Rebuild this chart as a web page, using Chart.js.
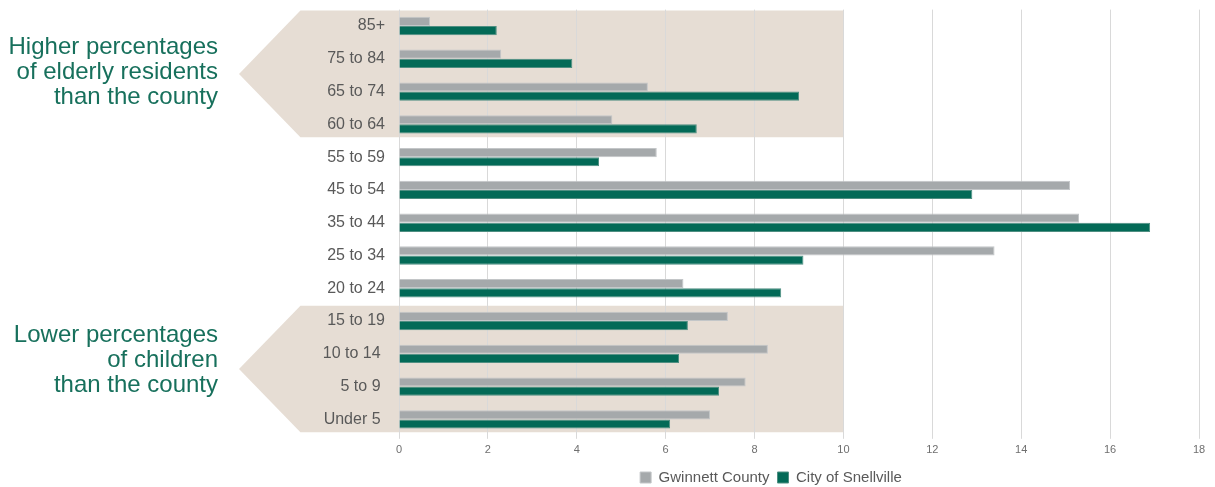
<!DOCTYPE html>
<html>
<head>
<meta charset="utf-8">
<script src="https://cdn.jsdelivr.net/npm/chart.js@4.4.0/dist/chart.umd.min.js"></script>
<style>
    html, body { margin: 0; padding: 0; background: #fff; }
    #wrap { position: relative; width: 1215px; height: 487px; }
    .note {
        position: absolute; right: 997px; text-align: right; white-space: nowrap;
        font-family: "Liberation Sans", Arial, sans-serif; font-size: 24px;
        line-height: 25px; color: #17705c;
    }
</style>
</head>
<body>
<div id="wrap">
    <canvas id="ageChart" width="1215" height="487"></canvas>
    <div class="note" style="top: 33px;">Higher percentages<br>of elderly residents<br>than the county</div>
    <div class="note" style="top: 321px;">Lower percentages<br>of children<br>than the county</div>
</div>
<script>
const ageGroups = ['85+', '75 to 84', '65 to 74', '60 to 64', '55 to 59', '45 to 54', '35 to 44',
    '25 to 34', '20 to 24', '15 to 19', '10 to 14 ', '5 to 9 ', 'Under 5 '];
const gwinnett = [0.7, 2.3, 5.6, 4.8, 5.8, 15.1, 15.3, 13.4, 6.4, 7.4, 8.3, 7.8, 7.0];
const snellville = [2.2, 3.9, 9.0, 6.7, 4.5, 12.9, 16.9, 9.1, 8.6, 6.5, 6.3, 7.2, 6.1];
// highlighted bands: first..last category index, right edge value
const bands = [[0, 3], [9, 12]];
const bandEdge = 10;

const arrowBands = {
    id: 'arrowBands',
    beforeDraw(chart) {
        const { ctx, scales: { x, y } } = chart;
        const step = y.getPixelForValue(1) - y.getPixelForValue(0);
        const right = x.getPixelForValue(bandEdge);
        const left = x.left - 160;
        ctx.save();
        ctx.fillStyle = '#e6ddd4';
        bands.forEach(([a, b]) => {
            const top = y.getPixelForValue(a) - step / 2 + 1;
            const bottom = y.getPixelForValue(b) + step / 2 - 3.5;
            const mid = (top + bottom) / 2;
            const corner = left + (mid - top) * 0.97;
            ctx.beginPath();
            ctx.moveTo(corner, top);
            ctx.lineTo(right, top);
            ctx.lineTo(right, bottom);
            ctx.lineTo(corner, bottom);
            ctx.lineTo(left, mid);
            ctx.closePath();
            ctx.fill();
        });
        ctx.restore();
    }
};

// Excel centres the legend under the plot, not the canvas
const shiftLegend = {
    id: 'shiftLegend',
    afterLayout(chart) {
        chart.legend.left = chart.chartArea.left - 56;
    }
};

const ctx = document.getElementById('ageChart').getContext('2d');
const ageChart = new Chart(ctx, {
    type: 'bar',
    data: {
        labels: ageGroups,
        datasets: [{
            label: 'Gwinnett County',
            data: gwinnett,
            backgroundColor: '#a5a9ab',
            borderColor: '#c3c6c8',
            borderWidth: 1
        }, {
            label: 'City of Snellville',
            data: snellville,
            backgroundColor: '#036a57',
            borderColor: '#4f8f82',
            borderWidth: 1
        }]
    },
    options: {
        indexAxis: 'y',
        responsive: false,
        animation: false,
        layout: { padding: { top: 8, right: 16, left: 0, bottom: -8 } },
        datasets: { bar: { categoryPercentage: 0.56, barPercentage: 1 } },
        scales: {
            x: {
                min: 0,
                max: 18,
                ticks: { stepSize: 2, color: '#6f6f6f', font: { family: 'Liberation Sans', size: 11 }, padding: 5 },
                grid: { color: '#d9d9d9', tickLength: 3 },
                border: { display: false }
            },
            y: {
                afterFit(scale) { scale.width = 399; },
                ticks: { color: '#595959', font: { family: 'Liberation Sans', size: 16 }, padding: 0 },
                grid: { drawOnChartArea: false, color: 'rgba(0,0,0,0)', tickLength: 14 },
                border: { display: false }
            }
        },
        plugins: {
            legend: {
                position: 'bottom',
                labels: {
                    color: '#595959',
                    font: { family: 'Liberation Sans', size: 15 },
                    boxWidth: 11,
                    boxHeight: 11,
                    padding: 8
                }
            },
            tooltip: { enabled: false }
        }
    },
    plugins: [arrowBands, shiftLegend]
});
</script>
</body>
</html>
